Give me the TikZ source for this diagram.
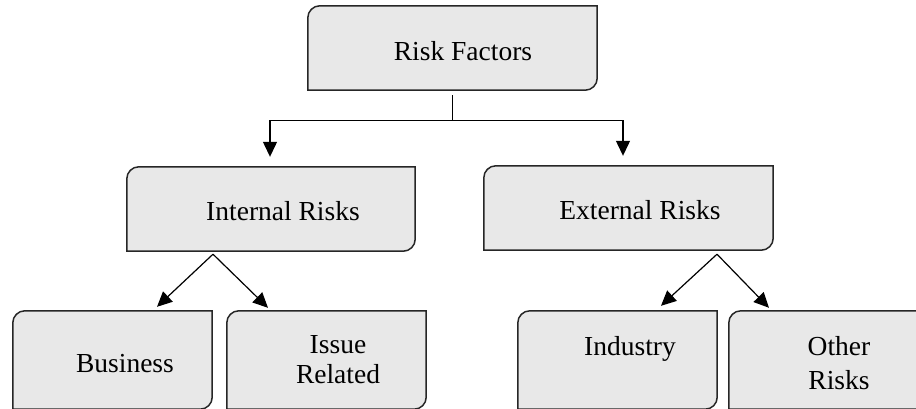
\documentclass[tikz,border=0pt]{standalone}
\usepackage{fontspec}
\setmainfont{Liberation Serif}
\usetikzlibrary{arrows.meta}
\definecolor{boxgray}{RGB}{232,232,232}

\tikzset{
  box/.style={minimum width=#1, minimum height=84pt, inner sep=0pt},
  lowbox/.style={minimum width=199pt, minimum height=98pt, inner sep=0pt},
  boxline/.style={draw=black!85, fill=boxgray, line width=1.5pt},
  lbl/.style={anchor=base, align=center, inner sep=0pt, font=\fontsize{27.5}{30}\selectfont},
  conn/.style={line width=1.2pt},
  arr/.style={conn, -{Triangle[length=15pt,width=14pt]}}
}

\begin{document}
\begin{tikzpicture}[x=1pt,y=1pt]
  \useasboundingbox (0,0) rectangle (916,408);
  % boxes
  \node[box=289pt] (top) at (452.5,360) {};
  \node[box=288pt] (int) at (271,199) {};
  \node[box=289pt] (ext) at (628.5,200) {};
  \node[lowbox] (bus) at (112.5,48) {};
  \node[lowbox] (iss) at (326.5,48) {};
  \node[lowbox] (ind) at (617.5,48) {};
  \node[lowbox] (oth) at (828.5,48) {};
  \foreach \b in {top,int,ext,bus,iss,ind,oth}
    \draw[boxline] (\b.south west) -- ([yshift=-12]\b.north west)
      arc[start angle=180,end angle=90,radius=12] -- (\b.north east)
      -- ([yshift=12]\b.south east) arc[start angle=0,end angle=-90,radius=12] -- cycle;
  % texts
  \node[lbl] (toptxt) at (463,348) {Risk Factors};
  \node[lbl] (inttxt) at (283,188) {Internal Risks};
  \node[lbl] (exttxt) at (640,189) {External Risks};
  \node[lbl] (bustxt) at (125,36) {Business};
  \node[lbl] (isstxt) at (338,25) {Issue\\Related};
  \node[lbl] (indtxt) at (630,53) {Industry};
  \node[lbl, font=\fontsize{27.5}{34}\selectfont] (othtxt) at (839,19) {Other\\Risks};
  % connectors
  \coordinate (split) at ([yshift=-30]top.south);
  \coordinate (intfork) at ([xshift=-58,yshift=-3]int.south);
  \coordinate (extfork) at ([xshift=88.5,yshift=-4]ext.south);
  \draw[conn] ([yshift=-5]top.south) -- (split);
  \draw[arr] (split) -| ([xshift=-1,yshift=10]int.north);
  \draw[arr] (split) -| ([xshift=-5.5,yshift=10]ext.north);
  \draw[arr] (intfork) -- ([xshift=44.5,yshift=4]bus.north);
  \draw[arr] (intfork) -- ([xshift=-58.5,yshift=3]iss.north);
  \draw[arr] (extfork) -- ([xshift=43.5,yshift=5]ind.north);
  \draw[arr] (extfork) -- ([xshift=-59.5,yshift=3]oth.north);
\end{tikzpicture}
\end{document}
